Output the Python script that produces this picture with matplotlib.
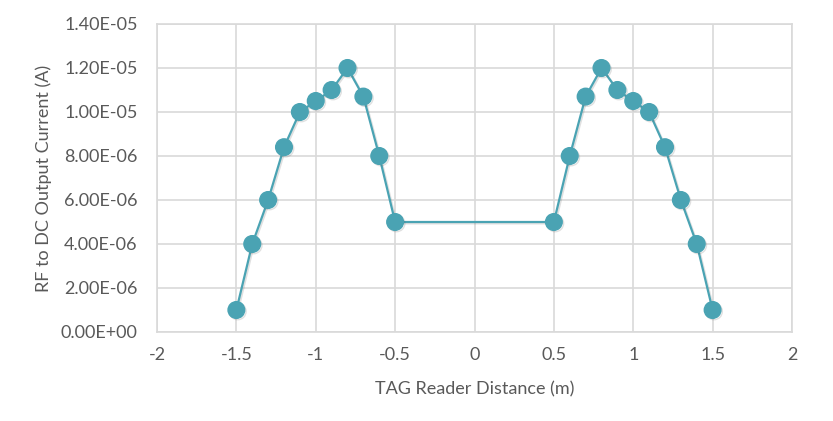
import matplotlib
matplotlib.use("Agg")
import matplotlib.pyplot as plt
import matplotlib.patheffects as pe
from matplotlib.ticker import FuncFormatter, MultipleLocator

# TAG reader distance (m) and rectified output current (A)
distance = [-1.5, -1.4, -1.3, -1.2, -1.1, -1.0, -0.9, -0.8, -0.7, -0.6, -0.5,
            0.5, 0.6, 0.7, 0.8, 0.9, 1.0, 1.1, 1.2, 1.3, 1.4, 1.5]
current = [1.0e-6, 4.0e-6, 6.0e-6, 8.4e-6, 1.0e-5, 1.05e-5, 1.1e-5, 1.2e-5, 1.07e-5, 8.0e-6, 5.0e-6,
           5.0e-6, 8.0e-6, 1.07e-5, 1.2e-5, 1.1e-5, 1.05e-5, 1.0e-5, 8.4e-6, 6.0e-6, 4.0e-6, 1.0e-6]

plt.rcParams["font.family"] = ["Lato", "DejaVu Sans"]
TEXT = "#595959"
GRID = "#d9d9d9"
TEAL = "#4aa3b3"

fig = plt.figure(figsize=(8.33, 4.21), dpi=100)
ax = fig.add_axes([157 / 833, 1 - 332 / 421, (792 - 157) / 833, (332 - 24) / 421])

ax.plot(distance, current, color=TEAL, lw=1.6, marker="o", ms=12,
        markerfacecolor=TEAL, markeredgecolor=TEAL,
        path_effects=[pe.SimpleLineShadow(offset=(1, -1), shadow_color="#555555", alpha=0.18),
                      pe.Normal()],
        zorder=3)

ax.set_xlim(-2, 2)
ax.set_ylim(0, 1.4e-5)
ax.xaxis.set_major_locator(MultipleLocator(0.5))
ax.yaxis.set_major_locator(MultipleLocator(2e-6))
ax.xaxis.set_major_formatter(FuncFormatter(lambda v, p: f"{v:g}"))
ax.yaxis.set_major_formatter(FuncFormatter(lambda v, p: f"{v:.2E}"))
ax.grid(True, color=GRID, lw=1.2)
ax.set_axisbelow(True)
for s in ax.spines.values():
    s.set_color(GRID)
    s.set_linewidth(1.2)
ax.tick_params(length=0, labelsize=13, colors=TEXT)
ax.tick_params(axis="x", pad=11)
ax.tick_params(axis="y", pad=14)

ax.set_xlabel("TAG Reader Distance (m)", fontsize=13, color=TEXT, labelpad=13)
ax.set_ylabel("RF to DC Output Current (A)", fontsize=13, color=TEXT, labelpad=6)

fig.savefig("out.png", dpi=100)
